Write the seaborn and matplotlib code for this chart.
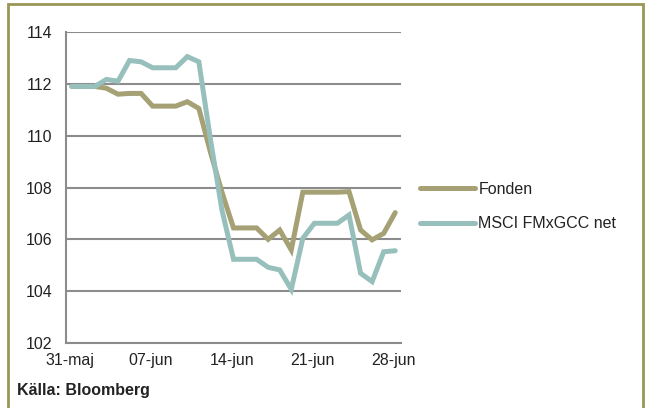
import matplotlib
matplotlib.use("Agg")
import matplotlib.pyplot as plt
import matplotlib.dates as mdates
import matplotlib.transforms as mtransforms
from matplotlib.patches import Rectangle
from matplotlib.lines import Line2D
import numpy as np
import pandas as pd
import seaborn as sns

# Daily index levels, 31 May - 28 Jun 2013
start_date = "2013-05-31"
fonden = [111.9, 111.9, 111.9, 111.83, 111.6, 111.63, 111.63, 111.14, 111.14, 111.14,
          111.31, 111.05, 109.37, 107.82, 106.44, 106.44, 106.44, 106.0, 106.36, 105.59,
          107.82, 107.82, 107.82, 107.82, 107.84, 106.36, 105.98, 106.23, 107.03]
msci = [111.9, 111.9, 111.9, 112.17, 112.1, 112.9, 112.85, 112.62, 112.62, 112.62,
        113.05, 112.85, 109.87, 107.13, 105.23, 105.23, 105.23, 104.92, 104.82, 104.07,
        106.04, 106.62, 106.62, 106.62, 106.94, 104.69, 104.37, 105.52, 105.56]
series_names = ["Fonden", "MSCI FMxGCC net"]
tick_dates = ["2013-05-31", "2013-06-07", "2013-06-14", "2013-06-21", "2013-06-28"]
tick_labels = ["31-maj", "07-jun", "14-jun", "21-jun", "28-jun"]
y_ticks = [102, 104, 106, 108, 110, 112, 114]
source_text = "Källa: Bloomberg"

# Each daily value is plotted in the middle of its day
dates = pd.date_range(start_date, periods=len(fonden), freq="D") + pd.Timedelta(hours=12)
df = pd.DataFrame({
    "Datum": np.concatenate([dates, dates]),
    "Index": fonden + msci,
    "Serie": [series_names[0]] * len(fonden) + [series_names[1]] * len(msci),
})

sns.set_theme(style="white")
plt.rcParams["font.family"] = ["Liberation Sans", "DejaVu Sans"]

text_color = "#222222"
axis_gray = "#8c8c8c"
fs = 11.5

fig = plt.figure(figsize=(6.47, 4.08), dpi=100)
ax = fig.add_axes([66 / 647, 1 - 343 / 408, (401 - 66) / 647, (343 - 32) / 408])

palette = {series_names[0]: "#a5a174", series_names[1]: "#97c0bd"}
sns.lineplot(data=df, x="Datum", y="Index", hue="Serie", palette=palette,
             linewidth=3.6, ax=ax, legend=False, solid_joinstyle="miter")

ax.set_xlim(pd.Timestamp(start_date), pd.Timestamp(start_date) + pd.Timedelta(days=29))
ax.set_ylim(102, 114)
ax.set_yticks(y_ticks)
ax.set_yticklabels([str(v) for v in y_ticks])
ax.set_xticks([mdates.date2num(pd.Timestamp(d)) for d in tick_dates])
ax.set_xticklabels(tick_labels)
ax.set_xlabel("")
ax.set_ylabel("")

ax.grid(axis="y", color=axis_gray, linewidth=1.5)
ax.set_axisbelow(True)
for side in ["top", "right"]:
    ax.spines[side].set_visible(False)
for side in ["left", "bottom"]:
    ax.spines[side].set_color(axis_gray)
    ax.spines[side].set_linewidth(1.5)
ax.tick_params(axis="both", direction="out", width=1.2, color=axis_gray,
               labelsize=fs, labelcolor=text_color)
ax.tick_params(axis="y", length=4, pad=6)
ax.tick_params(axis="x", length=3.5, pad=3.5)

# Date labels sit slightly right of their ticks
shift = mtransforms.ScaledTranslation(4 / 100, 0, fig.dpi_scale_trans)
for lbl in ax.get_xticklabels():
    lbl.set_transform(lbl.get_transform() + shift)

# Legend to the right of the plot
handles = [Line2D([0], [0], color=palette[n], linewidth=3.6, solid_capstyle="round")
           for n in series_names]
fig.legend(handles, series_names, loc="upper left", bbox_to_anchor=(420 / 647, 1 - 182 / 408),
           frameon=False, fontsize=fs, handlelength=3.45, handletextpad=0.2,
           labelspacing=1.2, borderpad=0, borderaxespad=0, labelcolor=text_color)

fig.text(17 / 647, 1 - 391 / 408, source_text, fontsize=fs, fontweight="bold",
         color=text_color, va="center", ha="left")

# Olive frame around the panel
fig.patches.append(Rectangle((8 / 647, -0.05), (643 - 8) / 647, 1.05 - 4 / 408,
                             transform=fig.transFigure, fill=False,
                             edgecolor="#9a9656", linewidth=2))

fig.savefig("out.png", dpi=100)
